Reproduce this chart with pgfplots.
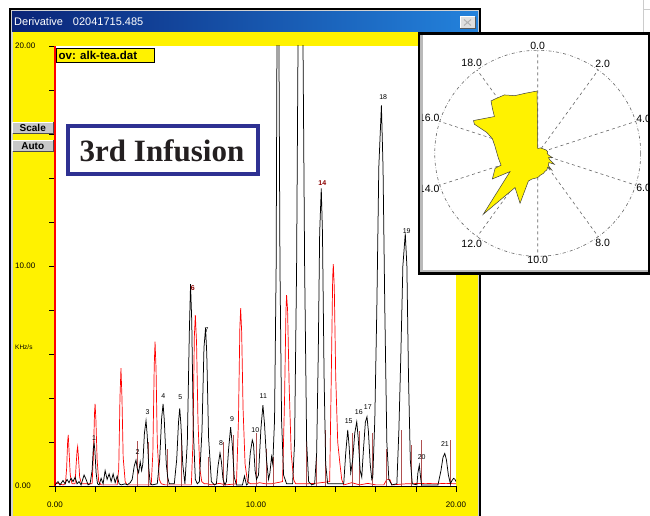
\documentclass[border=0pt]{standalone}
\usepackage{fontspec}
\setmainfont{Liberation Sans}
\newfontfamily\serifb{Liberation Serif}
\usepackage{pgfplots}
\usepgfplotslibrary{polar}
\pgfplotsset{compat=1.18}
\definecolor{navyA}{RGB}{10,36,120}
\definecolor{blueB}{RGB}{35,130,220}
\definecolor{boxblue}{RGB}{46,49,146}
\definecolor{markc}{RGB}{175,80,80}
\definecolor{dred}{RGB}{140,0,0}
\definecolor{btn}{RGB}{200,200,200}
\begin{document}
\begin{tikzpicture}[x=1pt,y=1pt]
\useasboundingbox (0,0) rectangle (650,516);
\fill[white] (0,0) rectangle (650,516);
\draw[gray!40] (643,516) -- (643,483);
\draw[gray!40] (643,507) -- (650,507);
% main window
\fill[black] (8.5,0) rectangle (481,507.5);
\fill[gray!35] (10.5,0) rectangle (479,505.5);
\shade[left color=navyA, right color=blueB] (12,484.5) rectangle (478,504);
\node[anchor=west, white, font=\fontsize{11}{12}\selectfont, inner sep=0pt] at (14,494.5) {Derivative\hspace{0.9em}02041715.485};
\fill[gray!25] (460,487.7) rectangle (475,499.3);
\draw[white] (460,487.7) -- (460,499.3) -- (475,499.3);
\draw[gray!70!black] (460,487.7) -- (475,487.7) -- (475,499.3);
\draw[gray!60, line width=1pt] (464,490.5) -- (471,496.5) (464,496.5) -- (471,490.5);
\fill[yellow] (12.5,0) rectangle (477.5,484);
% main chart
\begin{axis}[at={(55pt,30pt)}, anchor=south west, scale only axis,
  width=401pt, height=440pt,
  xmin=0, xmax=20, ymin=0, ymax=20,
  axis x line*=bottom, axis y line*=left,
  x axis line style={black, line width=0.8pt},
  y axis line style={red, line width=1.6pt},
  xtick={0,2,...,20}, ytick={0,2,...,20},
  xticklabels={,,,,,,,,,,}, yticklabels={,,,,,,,,,,},
  tick align=outside, major tick length=6pt,
  tick style={black, line width=0.7pt},
  axis background/.style={fill=white},
  clip=true]
\addplot[red, line width=0.7pt] table {
0 0.15
0.2 0.1
0.4 0.05
0.52 0.1
0.58 0.8
0.63 2.0
0.66 2.32
0.7 1.6
0.76 0.5
0.85 0.1
1.0 0.1
1.05 0.9
1.1 1.6
1.13 1.79
1.17 1.3
1.23 0.4
1.32 0.1
1.6 0.1
1.85 0.1
1.92 1.5
1.97 3.3
2.0 3.73
2.04 3.0
2.1 1.2
2.18 0.2
2.3 0.05
3.1 0.05
3.18 0.8
3.24 4.0
3.29 5.36
3.34 4.0
3.4 1.3
3.5 0.2
3.6 0.05
4.8 0.05
4.88 1.5
4.95 5.5
4.99 6.56
5.04 5.3
5.1 2.0
5.2 0.3
5.3 0.1
5.5 0.05
6.8 0.05
6.88 2.0
6.95 6.8
7.0 7.77
7.06 6.5
7.13 3.0
7.22 0.8
7.32 0.2
7.45 0.1
7.6 0.1
7.8 0.05
8.2 0.12
8.5 0.05
9.05 0.1
9.15 3
9.22 7.2
9.26 8.08
9.31 7.0
9.38 3.5
9.48 1.0
9.6 0.2
9.75 0.1
10.0 0.1
10.2 0.15
10.5 0.1
10.8 0.1
11.35 0.2
11.45 4.0
11.52 8.0
11.55 8.68
11.6 8.0
11.68 4.5
11.78 1.5
11.9 0.3
12.0 0.1
12.5 0.1
13.0 0.12
13.7 0.2
13.78 5
13.85 9.5
13.88 10.09
13.93 9.0
14.0 5.0
14.1 2.0
14.2 1.1
14.3 0.3
14.4 0.05
14.6 0.1
14.8 0.15
15.2 0.05
15.6 0.12
16.0 0.05
16.4 0.05
16.55 0.3
16.7 0.3
16.8 0.05
17.5 0.1
18.5 0.12
19.0 0.1
19.5 0.12
20 0.1
};
\addplot[ycomb, markc, line width=0.8pt, mark=none] table {
4.12 2.06
4.65 2.0
5.62 1.7
6.32 2.4
7.65 1.33
8.4 2.0
8.9 2.3
10.03 2.4
10.52 1.7
10.89 1.33
12.52 2.7
13.02 1.33
13.47 2.55
14.83 2.4
15.2 2.5
15.85 2.4
16.54 1.7
17.26 2.55
17.76 1.86
18.29 2.1
19.73 2.1
};
\addplot[black, line width=0.75pt] table {
0 0.05
0.15 0.2
0.25 0.05
0.4 0.25
0.5 0.1
0.6 0.3
0.7 0.15
0.8 0.35
0.9 0.2
1.0 0.4
1.1 0.1
1.2 0.2
1.3 0.05
1.45 0.5
1.55 0.3
1.65 0.05
1.75 0.1
1.85 0.7
1.91 1.7
1.95 1.95
1.99 1.6
2.05 0.6
2.12 0.1
2.2 0.05
2.3 0.35
2.4 0.1
2.5 0.7
2.6 0.3
2.7 0.55
2.8 0.2
2.9 0.55
3.0 0.15
3.1 0.45
3.2 0.1
3.3 0.05
3.5 0.1
3.6 0.05
3.75 0.15
3.85 0.3
3.95 0.9
4.04 1.18
4.1 0.8
4.17 0.6
4.25 1.1
4.32 0.7
4.38 1.0
4.46 2.4
4.54 2.97
4.6 2.3
4.68 0.8
4.75 0.1
4.85 0.05
5.1 0.1
5.22 1.2
5.32 3.1
5.39 3.73
5.45 3.0
5.55 1.0
5.62 0.4
5.7 0.1
5.95 0.1
6.07 1.2
6.16 2.9
6.22 3.53
6.28 2.8
6.37 1.0
6.48 0.1
6.6 2.0
6.7 7.0
6.76 9.17
6.82 7.5
6.9 2.5
7.0 0.3
7.1 0.1
7.2 0.2
7.33 2.5
7.43 6.3
7.51 7.18
7.57 6.0
7.66 2.2
7.8 0.2
7.95 0.05
8.05 0.1
8.13 0.9
8.23 1.5
8.3 1.1
8.38 0.3
8.48 0.05
8.55 0.2
8.66 1.7
8.76 2.67
8.84 1.9
8.94 0.4
9.05 0.05
9.35 0.05
9.45 0.45
9.55 0.05
9.62 0.1
9.74 1.5
9.84 2.09
9.9 1.9
9.98 0.7
10.05 0.3
10.15 0.5
10.27 2.6
10.37 3.68
10.45 2.8
10.55 1.2
10.65 0.3
10.72 0.6
10.8 1.33
10.86 1.0
10.95 3
11.03 10
11.07 20
11.1 28
11.14 28
11.17 20
11.22 10
11.3 3
11.4 0.5
11.55 0.1
11.85 0.1
11.95 2
12.05 10
12.12 20
12.2 30
12.3 30
12.37 20
12.45 10
12.55 2
12.65 0.2
12.8 0.05
12.95 0.1
13.05 1.5
13.13 6
13.2 11.5
13.28 13.53
13.34 11.5
13.42 5
13.5 1
13.6 0.1
14.4 0.1
14.5 1.5
14.6 2.55
14.67 1.8
14.75 0.6
14.85 1.2
14.95 2.4
15.05 2.92
15.12 2.2
15.22 0.7
15.3 0.4
15.38 1.6
15.48 2.9
15.56 3.15
15.63 2.5
15.72 1.0
15.8 0.3
15.85 0.4
15.95 3
16.05 8
16.15 14.5
16.28 17.3
16.36 14.5
16.45 8
16.55 2
16.65 0.3
16.8 0.05
17.05 0.1
17.15 2.5
17.25 6
17.35 10
17.47 11.48
17.55 10
17.63 5
17.72 1.2
17.82 0.1
18.05 0.05
18.1 0.6
18.17 0.95
18.22 0.5
18.28 0.05
19.1 0.05
19.25 0.7
19.35 1.3
19.44 1.48
19.52 1.2
19.62 0.5
19.72 0.1
19.8 0.25
19.88 0.35
19.95 0.3
20 0.2
};
\begin{scope}[every node/.style={font=\fontsize{7}{8}\selectfont, inner sep=0pt}]
\node at (axis cs:1.95,2.2) {1};
\node at (axis cs:4.12,1.56) {2};
\node at (axis cs:4.62,3.35) {3};
\node at (axis cs:5.4,4.1) {4};
\node at (axis cs:6.25,4.03) {5};
\node[text=dred, font=\bfseries\fontsize{7}{8}\selectfont] at (axis cs:6.87,9.0) {6};
\node at (axis cs:7.56,7.09) {7};
\node at (axis cs:8.28,1.94) {8};
\node at (axis cs:8.83,3.05) {9};
\node at (axis cs:9.99,2.55) {10};
\node at (axis cs:10.39,4.09) {11};
\node[text=dred, font=\bfseries\fontsize{7}{8}\selectfont] at (axis cs:13.33,13.76) {14};
\node at (axis cs:14.65,2.97) {15};
\node at (axis cs:15.15,3.38) {16};
\node at (axis cs:15.6,3.6) {17};
\node at (axis cs:16.37,17.67) {18};
\node at (axis cs:17.54,11.6) {19};
\node at (axis cs:18.29,1.3) {20};
\node at (axis cs:19.45,1.9) {21};
\end{scope}
\end{axis}
% tick labels
\begin{scope}[every node/.style={font=\fontsize{8}{9}\selectfont, inner sep=0pt}]
\node[anchor=west] at (15,470) {20.00};
\node[anchor=west] at (15,250) {10.00};
\node[anchor=west] at (15,30) {0.00};
\node[anchor=west, font=\fontsize{6.5}{7}\selectfont] at (15,169) {KHz/s};
\node at (55,11) {0.00};
\node at (256,11) {10.00};
\node at (456,11) {20.00};
\end{scope}
% file box
\fill[yellow] (56,454) rectangle (154.5,468);
\draw[black, line width=0.8pt] (56,454) rectangle (154.5,468);
\draw[red, line width=1.6pt] (55,454) -- (55,468);
\node[anchor=west, font=\bfseries\fontsize{11.5}{12}\selectfont, inner sep=0pt] at (58.5,461) {ov: alk-tea.dat};
% buttons
\foreach \yb/\lab in {383/Scale, 364.5/Auto}{
  \fill[btn] (12.5,\yb) rectangle (53,\yb+11);
  \draw[white] (12.5,\yb) -- (12.5,\yb+11) -- (53,\yb+11);
  \draw[gray!60!black] (12.5,\yb) -- (53,\yb) -- (53,\yb+11);
  \node[font=\bfseries\fontsize{10}{11}\selectfont, inner sep=0pt] at (32.75,\yb+5.5) {\lab};
}
% 3rd infusion box
\fill[white] (66,340) rectangle (260,392);
\draw[boxblue, line width=4pt] (68,342) rectangle (258,390);
\node[font=\serifb\bfseries\fontsize{31}{33}\selectfont, text={rgb,255:red,35;green,31;blue,32}, inner sep=0pt] at (162,365) {3rd Infusion};
% polar window
\fill[black] (417.5,241) rectangle (650,483.5);
\fill[gray!55] (420,243.5) rectangle (647.5,481);
\fill[white] (422.5,246) rectangle (647.5,480.5);
\begin{scope}
\clip (422.5,246) rectangle (647.5,480.5);
\begin{polaraxis}[at={(537.7pt,362.7pt)}, anchor=origin, scale only axis,
  width=206pt, height=206pt,
  xmin=0, xmax=360, ymin=0, ymax=103,
  ytick=\empty,
  xtick={18,54,...,342},
  xticklabels={4.0,2.0,0.0,18.0,16.0,14.0,12.0,10.0,8.0,6.0},
  xmajorgrids, major x grid style={gray!80!black, dashed, line width=0.6pt},
  separate axis lines,
  x axis line style={gray!80!black, dash dot, line width=0.6pt},
  y axis line style={draw=none},
  xtick style={draw=none},
  xticklabel style={font=\fontsize{10.5}{12}\selectfont, inner sep=0pt},
  clip=false]
\addplot[fill=yellow, draw=black!75, line width=0.5pt] table[x expr=450-18*\thisrowno{0}, y index=1] {
0.0 5
0.4 5
1.5 6
2.9 7.1
3.8 9
4.45 10.1
5.0 9.5
5.5 10.8
5.9 15.3
6.2 11.5
6.6 14
6.86 20
7.2 14.5
7.73 16.3
7.78 21.8
8.0 17
8.4 19
8.8 19.5
9.1 20.8
9.6 22
10.0 24.3
10.7 26.4
11.03 29.2
11.08 53
11.86 41.1
12.32 81.7
13.14 33.2
13.36 52.1
13.92 45.2
14.0 38.5
14.6 39.6
15.5 43.2
16.0 47.7
16.24 55.2
16.37 69.6
16.5 72.1
17.24 56.8
17.49 63.9
17.68 70.1
17.88 69.1
18.35 67.2
18.8 62
19.33 61.3
19.97 62.3
} -- cycle;
\end{polaraxis}
\end{scope}
\end{tikzpicture}
\end{document}
